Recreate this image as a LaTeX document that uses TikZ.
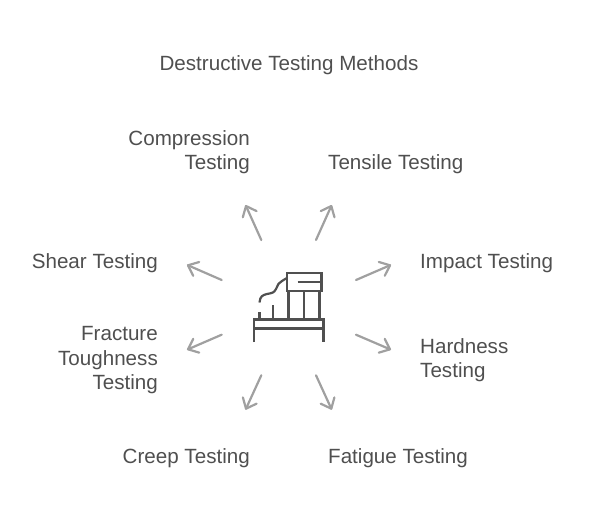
\documentclass[tikz,border=0pt]{standalone}
\usepackage{fontspec}
\setmainfont{Liberation Sans}
\usetikzlibrary{calc}
\definecolor{txt}{HTML}{4F4F4F}
\definecolor{arr}{HTML}{A0A0A0}
\definecolor{ico}{HTML}{505050}
\tikzset{
 lbl/.style={text=txt,font=\fontsize{20.6}{24.5}\selectfont,inner sep=0pt},
 lblr/.style={lbl,align=right,anchor=east},
 lbll/.style={lbl,align=left,anchor=west},
 ray/.style={draw=arr,line width=2.2pt,line cap=round,line join=round},
 icon/.style={draw=ico,line width=2.2pt}
}
\begin{document}
\begin{tikzpicture}[x=1pt,y=-1pt]
\useasboundingbox (0,0) rectangle (590,517);
\node[lbl,anchor=center] (title) at (289,65.3) {Destructive Testing Methods};
\node[lblr] (comp) at (250,152.3) {Compression\\Testing};
\node[lbll] (tens) at (328,164) {Tensile Testing};
\node[lbll] (imp) at (420,263) {Impact Testing};
\node[lbll] (hard) at (420,360) {Hardness\\Testing};
\node[lbll] (fat) at (328,458) {Fatigue Testing};
\node[lblr] (creep) at (250,458) {Creep Testing};
\node[lblr] (frac) at (158,360.3) {Fracture\\Toughness\\Testing};
\node[lblr] (shear) at (158,263) {Shear Testing};
\foreach \n/\ax/\ay/\bx/\by in {a/261.3/240/246/206,b/316/240/331.3/206,c/356/280/390/265.3,d/356/334.7/390/349.3,e/316/375.3/331.3/408.7,f/261.3/375.3/246/408.7,g/221.7/334.7/188/349.3,h/221.7/280/188/265.3}{
 \coordinate (\n s) at (\ax,\ay);
 \coordinate (\n t) at (\bx,\by);
 \draw[ray] (\n s) -- (\n t);
 \draw[ray] ($(\n t)!11.7pt!40:(\n s)$) -- (\n t) -- ($(\n t)!11.7pt!-40:(\n s)$);
}
\draw[icon] (254,342) -- (254,319.5) -- (323.5,319.5) -- (323.5,342);
\draw[icon] (254,328.5) -- (323.5,328.5);
\draw[icon] (287,273) rectangle (321.5,291);
\draw[icon] (297.5,282) -- (321.5,282);
\draw[icon] (288.5,291) -- (288.5,319.5);
\draw[icon] (304,291) -- (304,319.5);
\draw[icon] (319.5,291) -- (319.5,319.5);
\draw[icon] (259.5,319.5) -- (259.5,312);
\draw[icon] (273,319.5) -- (273,305);
\draw[icon] (259.5,302.5) .. controls (260,296) and (263,295) .. (267,294) .. controls (272,293) and (274,293) .. (276,289) .. controls (277,285) and (278,283) .. (287,278);
\end{tikzpicture}
\end{document}
